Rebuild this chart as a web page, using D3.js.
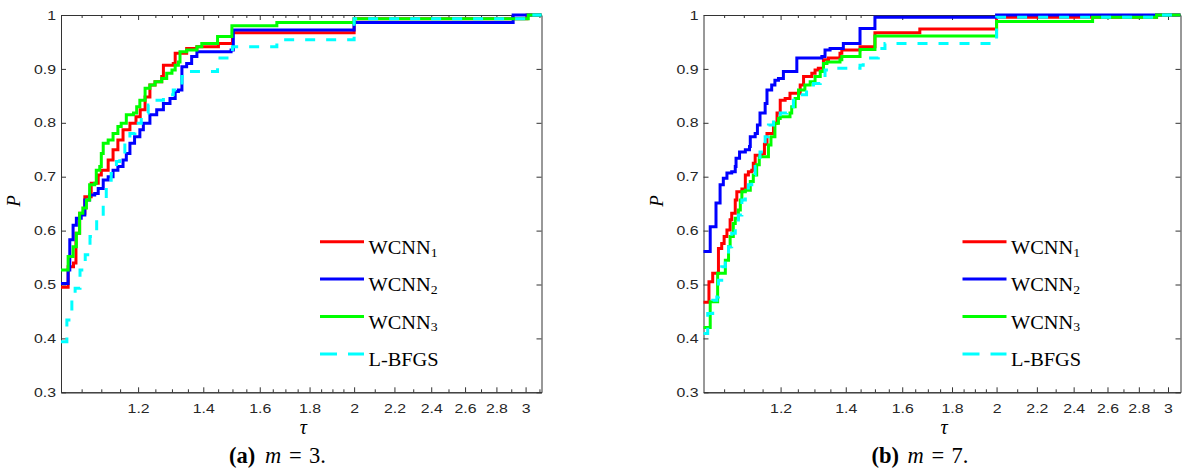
<!DOCTYPE html>
<html lang="en">
<head>
<meta charset="UTF-8">
<title>Performance profiles</title>
<style>
  body { margin: 0; background: #fff; }
  svg { display: block; }
</style>
</head>
<body>
<div id="chart"></div>
<script src="https://d3js.org/d3.v7.min.js"></script>
<script>
const w = 1182;
const h = 475;

// axis ticks
const xTickVals = [1.2, 1.4, 1.6, 1.8, 2, 2.2, 2.4, 2.6, 2.8, 3];
const xTickLabels = ["1.2", "1.4", "1.6", "1.8", "2", "2.2", "2.4", "2.6", "2.8", "3"];
const xMinorVals = [1.05, 1.1, 1.15, 1.25, 1.3, 1.35, 1.45, 1.5, 1.55, 1.65, 1.7, 1.75,
                    1.85, 1.9, 1.95, 2.1, 2.3, 2.5, 2.7, 2.9, 3.1];
const yTickVals = [0.3, 0.4, 0.5, 0.6, 0.7, 0.8, 0.9, 1];
const yTickLabels = ["0.3", "0.4", "0.5", "0.6", "0.7", "0.8", "0.9", "1"];

// legend
const seriesNames = ["WCNN", "WCNN", "WCNN", "L-BFGS"];
const seriesSubs = ["1", "2", "3", ""];

// (a) m = 3 : [tau, P] stair points
const m3_wcnn1 = [[1.000,0.495],[1.017,0.533],[1.030,0.540],[1.036,0.595],[1.045,0.632],[1.058,0.663],[1.074,0.688],[1.092,0.703],[1.100,0.712],[1.118,0.731],[1.131,0.750],[1.144,0.768],[1.158,0.787],[1.177,0.799],[1.194,0.811],[1.206,0.824],[1.220,0.848],[1.234,0.870],[1.249,0.876],[1.269,0.886],[1.274,0.907],[1.304,0.910],[1.310,0.929],[1.346,0.938],[1.379,0.941],[1.451,0.947],[1.500,0.967],[2.000,0.993],[3.010,1.000]];
const m3_wcnn2 = [[1.000,0.502],[1.017,0.527],[1.021,0.583],[1.029,0.610],[1.037,0.623],[1.049,0.629],[1.058,0.657],[1.070,0.666],[1.083,0.669],[1.092,0.678],[1.105,0.694],[1.118,0.700],[1.131,0.712],[1.144,0.719],[1.158,0.731],[1.167,0.743],[1.177,0.762],[1.190,0.774],[1.205,0.787],[1.215,0.799],[1.234,0.815],[1.254,0.824],[1.274,0.836],[1.294,0.845],[1.310,0.858],[1.320,0.861],[1.331,0.904],[1.346,0.910],[1.362,0.923],[1.379,0.932],[1.495,0.935],[1.503,0.972],[2.000,0.986],[2.913,1.000]];
const m3_wcnn3 = [[1.000,0.527],[1.017,0.552],[1.029,0.570],[1.037,0.595],[1.045,0.632],[1.053,0.642],[1.062,0.657],[1.070,0.685],[1.083,0.688],[1.087,0.712],[1.096,0.719],[1.100,0.743],[1.105,0.762],[1.118,0.768],[1.131,0.780],[1.144,0.793],[1.153,0.799],[1.167,0.815],[1.187,0.818],[1.196,0.830],[1.205,0.842],[1.220,0.864],[1.234,0.870],[1.249,0.876],[1.269,0.882],[1.284,0.892],[1.300,0.898],[1.310,0.907],[1.320,0.913],[1.325,0.932],[1.346,0.935],[1.379,0.941],[1.395,0.947],[1.448,0.960],[1.498,0.980],[1.666,0.986],[2.000,0.993],[3.019,1.000]];
const m3_lbfgs = [[1.000,0.394],[1.014,0.434],[1.026,0.480],[1.034,0.493],[1.046,0.527],[1.059,0.555],[1.071,0.589],[1.088,0.620],[1.105,0.647],[1.113,0.681],[1.126,0.706],[1.140,0.728],[1.149,0.743],[1.163,0.762],[1.177,0.780],[1.191,0.799],[1.209,0.818],[1.229,0.833],[1.249,0.842],[1.274,0.852],[1.304,0.861],[1.331,0.886],[1.352,0.895],[1.448,0.920],[1.500,0.941],[1.666,0.954],[2.000,0.993],[3.019,1.000]];

// (b) m = 7
const m7_wcnn1 = [[1.000,0.467],[1.013,0.505],[1.022,0.521],[1.036,0.567],[1.044,0.576],[1.050,0.589],[1.057,0.601],[1.065,0.620],[1.069,0.632],[1.078,0.657],[1.082,0.672],[1.095,0.677],[1.104,0.703],[1.112,0.709],[1.121,0.712],[1.125,0.725],[1.130,0.740],[1.148,0.743],[1.155,0.760],[1.162,0.780],[1.180,0.799],[1.190,0.818],[1.199,0.842],[1.213,0.845],[1.227,0.855],[1.257,0.870],[1.267,0.886],[1.292,0.892],[1.302,0.898],[1.312,0.901],[1.328,0.917],[1.344,0.920],[1.381,0.929],[1.387,0.935],[1.448,0.941],[1.500,0.967],[1.668,0.974],[2.000,0.996],[2.920,1.000]];
const m7_wcnn2 = [[1.000,0.561],[1.016,0.607],[1.030,0.651],[1.040,0.685],[1.048,0.697],[1.057,0.707],[1.069,0.709],[1.078,0.719],[1.080,0.734],[1.089,0.746],[1.104,0.750],[1.115,0.756],[1.117,0.774],[1.130,0.780],[1.136,0.796],[1.143,0.818],[1.157,0.836],[1.162,0.861],[1.175,0.870],[1.184,0.879],[1.194,0.882],[1.208,0.895],[1.247,0.920],[1.323,0.923],[1.333,0.935],[1.349,0.938],[1.392,0.947],[1.448,0.975],[1.500,0.996],[2.000,1.000]];
const m7_wcnn3 = [[1.000,0.420],[1.016,0.468],[1.034,0.521],[1.053,0.545],[1.061,0.570],[1.065,0.589],[1.073,0.613],[1.078,0.623],[1.086,0.638],[1.091,0.657],[1.095,0.672],[1.104,0.675],[1.117,0.691],[1.125,0.703],[1.134,0.722],[1.141,0.737],[1.166,0.759],[1.173,0.774],[1.184,0.799],[1.194,0.808],[1.199,0.811],[1.227,0.818],[1.232,0.830],[1.242,0.845],[1.252,0.861],[1.271,0.870],[1.287,0.876],[1.302,0.886],[1.318,0.895],[1.328,0.910],[1.339,0.913],[1.381,0.917],[1.387,0.923],[1.448,0.936],[1.500,0.961],[2.000,0.988],[2.510,0.996],[2.920,1.000]];
const m7_lbfgs = [[1.000,0.409],[1.010,0.446],[1.022,0.471],[1.032,0.477],[1.036,0.508],[1.044,0.533],[1.053,0.552],[1.061,0.570],[1.069,0.595],[1.078,0.617],[1.086,0.629],[1.095,0.657],[1.104,0.669],[1.112,0.685],[1.121,0.703],[1.130,0.719],[1.143,0.746],[1.157,0.774],[1.166,0.796],[1.180,0.808],[1.199,0.818],[1.218,0.830],[1.237,0.842],[1.257,0.852],[1.276,0.861],[1.297,0.873],[1.318,0.882],[1.333,0.898],[1.360,0.901],[1.448,0.907],[1.459,0.920],[1.512,0.938],[1.536,0.947],[2.000,0.996],[2.920,1.000]];

const colors = ["#ff0000", "#0000ff", "#00ff00", "#00ffff"];
const dashes = [null, null, null, "10,11"];
const axisColor = "#333";

const panels = [
  { x0: 61, x1: 541.5, tauMax: 3.115, letter: "a", m: "3", data: [m3_wcnn1, m3_wcnn2, m3_wcnn3, m3_lbfgs] },
  { x0: 703.5, x1: 1180.5, tauMax: 3.09, letter: "b", m: "7", data: [m7_wcnn1, m7_wcnn2, m7_wcnn3, m7_lbfgs] }
];

const svg = d3.select("#chart").append("svg")
  .attr("width", w)
  .attr("height", h);

const yTop = 15, yBot = 392.3;
const labelStretch = 1.22;  // tick digits in the picture are a bit wide

function styleAxis(sel) {
  sel.attr("color", axisColor)
    .attr("font-family", "'Liberation Sans', Arial, sans-serif")
    .attr("font-size", 13);
  sel.selectAll("text").attr("fill", "#262626");
}

function drawPanel(p) {
  const x = d3.scaleLog().domain([1, p.tauMax]).range([p.x0, p.x1]);
  const y = d3.scaleLinear().domain([0.3, 1]).range([yBot, yTop]);
  const g = svg.append("g");
  const minor = xMinorVals.filter(v => v < p.tauMax);

  // minor x ticks (bottom + top)
  g.append("g").attr("transform", `translate(0,${yBot})`)
    .call(d3.axisBottom(x).tickValues(minor).tickSize(-3).tickSizeOuter(0).tickFormat(""))
    .call(styleAxis);
  g.append("g").attr("transform", `translate(0,${yTop})`)
    .call(d3.axisTop(x).tickValues(minor).tickSize(-3).tickSizeOuter(0).tickFormat(""))
    .call(styleAxis);

  // major x ticks
  g.append("g").attr("transform", `translate(0,${yBot})`)
    .call(d3.axisBottom(x).tickValues(xTickVals).tickSize(-5).tickSizeOuter(0).tickPadding(11)
      .tickFormat((d, i) => xTickLabels[i]))
    .call(styleAxis)
    .selectAll("text").attr("transform", `scale(${labelStretch},1)`);
  g.append("g").attr("transform", `translate(0,${yTop})`)
    .call(d3.axisTop(x).tickValues(xTickVals).tickSize(-5).tickSizeOuter(0).tickFormat(""))
    .call(styleAxis);

  // y ticks
  g.append("g").attr("transform", `translate(${p.x0},0)`)
    .call(d3.axisLeft(y).tickValues(yTickVals).tickSize(-5).tickSizeOuter(0).tickPadding(5 / labelStretch)
      .tickFormat((d, i) => yTickLabels[i]))
    .call(styleAxis)
    .selectAll("text").attr("transform", `scale(${labelStretch},1)`);
  g.append("g").attr("transform", `translate(${p.x1},0)`)
    .call(d3.axisRight(y).tickValues(yTickVals).tickSize(-5).tickSizeOuter(0).tickFormat(""))
    .call(styleAxis);

  // curves
  const line = d3.line()
    .curve(d3.curveStepAfter)
    .x(d => x(d[0]))
    .y(d => y(d[1]));

  p.data.forEach((s, i) => {
    const pts = s.concat([[p.tauMax, s[s.length - 1][1]]]);
    g.append("path")
      .datum(pts)
      .attr("fill", "none")
      .attr("stroke", colors[i])
      .attr("stroke-width", 3)
      .attr("stroke-dasharray", dashes[i])
      .attr("d", line);
  });

  // legend
  const lg = g.append("g").attr("transform", `translate(${p.x0 + 259},0)`);
  seriesNames.forEach((name, i) => {
    const base = 254 + i * 37.4;
    lg.append("line")
      .attr("x1", 0).attr("x2", 44)
      .attr("y1", base - 12.3).attr("y2", base - 12.3)
      .attr("stroke", colors[i])
      .attr("stroke-width", 3)
      .attr("stroke-dasharray", dashes[i] ? "17,11" : null);
    const t = lg.append("text")
      .attr("transform", `translate(48.5,${base}) scale(1.1,1)`)
      .attr("font-family", "'Liberation Serif', 'Times New Roman', serif")
      .attr("font-size", 18.5)
      .attr("fill", "#000")
      .text(name);
    if (seriesSubs[i]) {
      t.append("tspan").attr("font-size", 12.5).attr("dy", 2.5).text(seriesSubs[i]);
    }
  });

  // axis titles
  g.append("text")
    .attr("transform", `translate(${p.x0 - 41},201) rotate(-90)`)
    .attr("text-anchor", "middle")
    .attr("font-family", "'Liberation Serif', serif")
    .attr("font-style", "italic")
    .attr("font-size", 19)
    .text("P");
  g.append("text")
    .attr("x", (p.x0 + p.x1) / 2 + 2)
    .attr("y", 434)
    .attr("text-anchor", "middle")
    .attr("font-family", "'Liberation Serif', serif")
    .attr("font-style", "italic")
    .attr("font-size", 20)
    .text("τ");

  // caption
  const cap = g.append("text")
    .attr("y", 463)
    .attr("font-family", "'Liberation Serif', serif")
    .attr("font-size", 22.5)
    .attr("fill", "#000");
  cap.append("tspan").attr("x", p.x0 + 168).attr("font-weight", "bold").text(`(${p.letter})`);
  cap.append("tspan").attr("x", p.x0 + 204).attr("font-style", "italic").text("m");
  cap.append("tspan").attr("x", p.x0 + 228).text("=");
  cap.append("tspan").attr("x", p.x0 + 248).text(`${p.m}.`);
}

panels.forEach(drawPanel);
</script>
</body>
</html>
